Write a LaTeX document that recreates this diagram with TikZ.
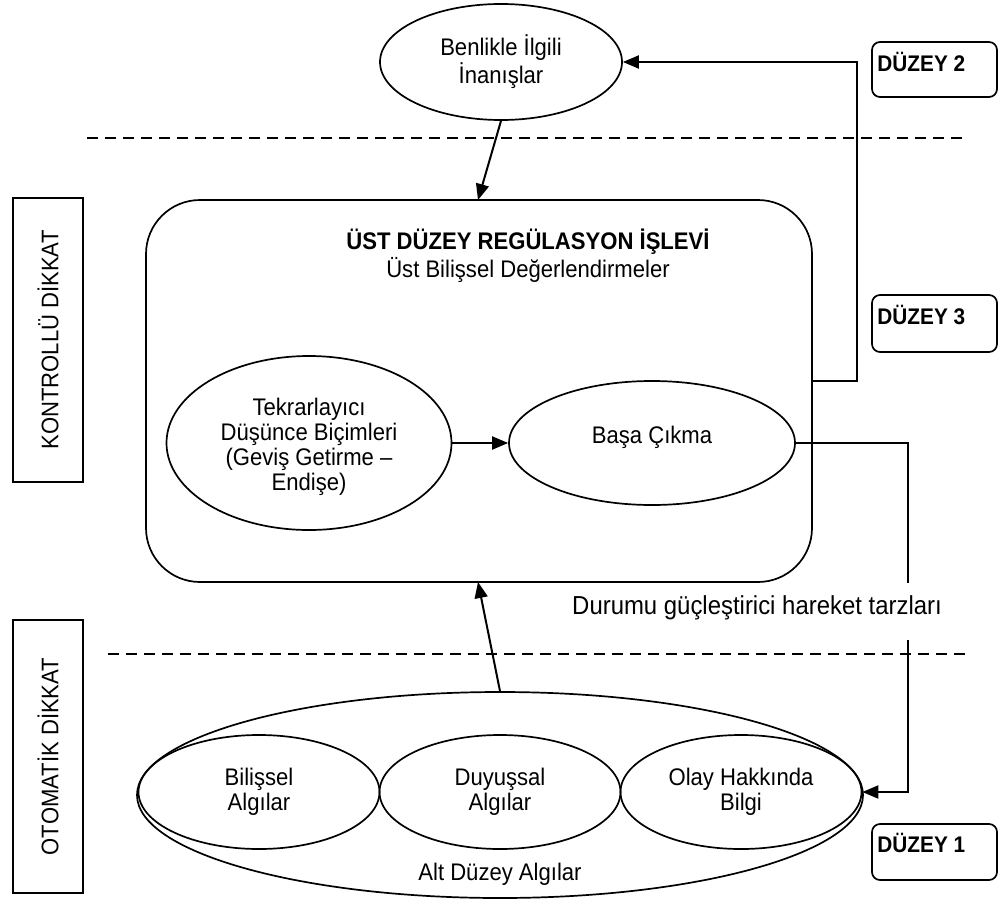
\documentclass[tikz,border=0pt]{standalone}
\usepackage{fontspec}
\setmainfont{Liberation Sans}[FakeStretch=0.92]
\usetikzlibrary{shapes.geometric,arrows.meta}

\tikzset{
  shape line/.style={draw, line width=0.85pt},
  oval/.style={shape line, ellipse, inner sep=0pt, align=center},
  levelbox/.style={shape line, rounded corners=4pt, minimum width=62.5pt, inner sep=0pt},
  levellabel/.style={anchor=west, font=\bfseries\fontsize{11.3}{13}\selectfont, inner sep=0pt},
  sidebox/.style={shape line, rotate=90, minimum height=35pt, inner sep=0pt, font=\fontsize{12}{13}\selectfont},
  arr/.style={line width=1pt, -{Triangle[length=8pt,width=6.5pt]}},
  link/.style={line width=1pt},
  dashedline/.style={line width=1pt, dash pattern=on 5.5pt off 3.5pt},
  txt/.style={inner sep=0pt, align=center, font=\fontsize{12}{12.5}\selectfont}
}

\begin{document}
\begin{tikzpicture}[x=0.5pt, y=-0.5pt]
  \useasboundingbox (0,0) rectangle (1000,904);

  % level separators
  \coordinate (dL1) at (87,138);  \coordinate (dR1) at (965,138);
  \coordinate (dL2) at (108,654); \coordinate (dR2) at (965,654);
  \draw[dashedline] (dL1) -- (dR1);
  \draw[dashedline] (dL2) -- (dR2);

  % attention labels on the left
  \node[sidebox, minimum width=142pt] (kontrol) at (48,340) {KONTROLLÜ DİKKAT};
  \node[sidebox, minimum width=136.5pt] (otomatik) at (48,756.5) {OTOMATİK DİKKAT};

  % level tags on the right
  \node[levelbox, minimum height=27.5pt] (d2box) at (934.5,69.5) {};
  \node[levellabel] (d2) at (877,62) {DÜZEY 2};
  \node[levelbox, minimum height=28.5pt] (d3box) at (934.5,323.5) {};
  \node[levellabel] (d3) at (877,315) {DÜZEY 3};
  \node[levelbox, minimum height=28pt] (d1box) at (934.5,852) {};
  \node[levellabel] (d1) at (877,843) {DÜZEY 1};

  % self-related beliefs
  \node[oval, minimum width=121pt, minimum height=58pt, txt] (top) at (501,62)
    {Benlikle İlgili\\İnanışlar};

  % upper level regulation
  \node[shape line, rounded corners=27pt, minimum width=333pt, minimum height=191pt] (main) at (479,391) {};
  \node[txt, font=\bfseries\fontsize{12}{12.5}\selectfont] (title) at (528,242) {ÜST DÜZEY REGÜLASYON İŞLEVİ};
  \node[txt] (subtitle) at (528,270) {Üst Bilişsel Değerlendirmeler};

  \node[oval, minimum width=142.5pt, minimum height=87pt] (tek) at (309,443) {};
  \node[txt] (tektext) at (309,447)
    {Tekrarlayıcı\\Düşünce Biçimleri\\(Geviş Getirme –\\Endişe)};
  \node[oval, minimum width=143pt, minimum height=62pt] (basa) at (652,443) {};
  \node[txt] (basatext) at (652,437) {Başa Çıkma};

  % lower level perceptions
  \node[oval, minimum width=363pt, minimum height=103pt] (big) at (500,795) {};
  \node[oval, minimum width=120.5pt, minimum height=57pt, txt] (bilissel) at (259,792) {Bilişsel\\Algılar};
  \node[oval, minimum width=120.5pt, minimum height=57pt, txt] (duyussal) at (500,792) {Duyuşsal\\Algılar};
  \node[oval, minimum width=120.5pt, minimum height=57pt, txt] (olay) at (741,792) {Olay Hakkında\\Bilgi};
  \node[txt] (alt) at (500,874) {Alt Düzey Algılar};

  % connectors
  \coordinate (inTop) at (478,200);
  \coordinate (inBot) at (478,582);
  \draw[arr] (top.south) -- (inTop);
  \draw[arr] (big.north) -- (inBot);
  \draw[arr] (tek.east) -- (basa.west);

  \coordinate (outR) at (812,381);
  \coordinate (cornerR) at (857,381);
  \draw[arr] (outR) -- (cornerR) |- (top.east);

  \coordinate (gapTop) at (908,583);
  \coordinate (gapBot) at (908,640);
  \draw[link] (basa.east) -| (gapTop);
  \draw[arr] (gapBot) |- (olay.east);
  \node[txt, font=\fontsize{13}{14}\selectfont] (durum) at (757,608) {Durumu güçleştirici hareket tarzları};
\end{tikzpicture}
\end{document}
